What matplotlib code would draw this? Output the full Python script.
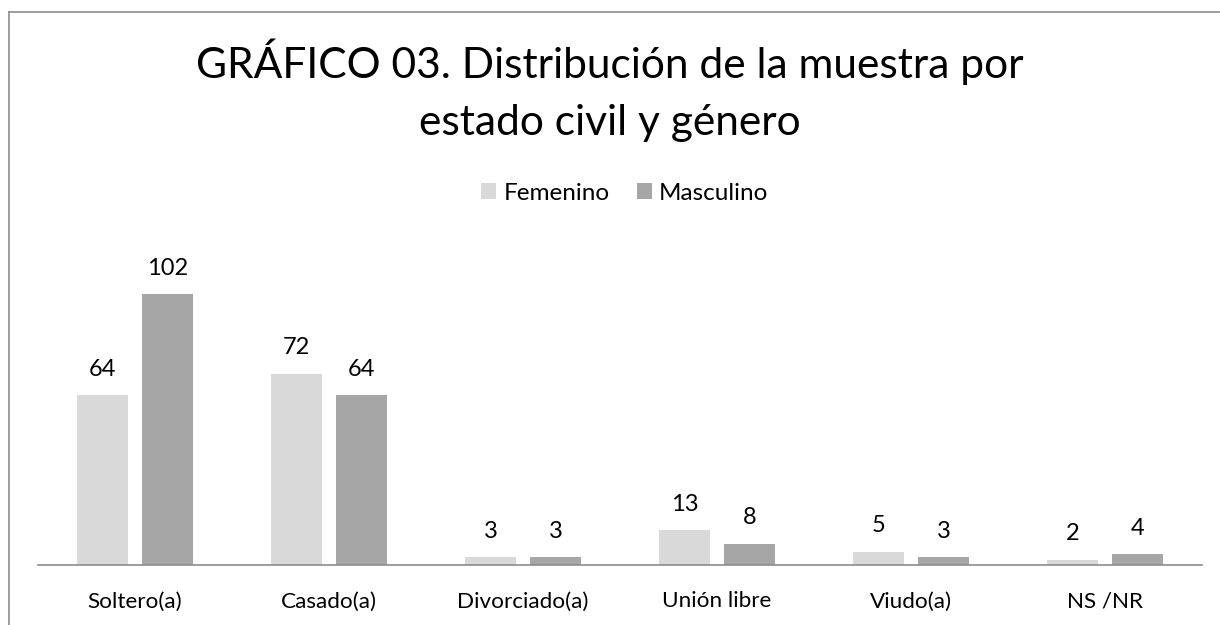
import matplotlib.pyplot as plt
import numpy as np
from matplotlib.lines import Line2D

plt.rcParams['font.family'] = ['Lato', 'DejaVu Sans']

# data
categories = ["Soltero(a)", "Casado(a)", "Divorciado(a)", "Unión libre", "Viudo(a)", "NS /NR"]
femenino = [64, 72, 3, 13, 5, 2]
masculino = [102, 64, 3, 8, 3, 4]
title_lines = ["GRÁFICO 03. Distribución de la muestra por", "estado civil y género"]

fem_color = '#D9D9D9'
masc_color = '#A6A6A6'

fig = plt.figure(figsize=(12.2, 6.25), dpi=100)
fig.patch.set_facecolor('white')

# plot area: baseline at y=565 px, x from 38 to 1202 px
W, H = 1220, 625
left = 38 / W
width = 1164 / W
bottom = 1 - 565 / H
ymax = 120
height = ymax * 2.657 / H
ax = fig.add_axes([left, bottom, width, height])

x = np.arange(len(categories))
bw = 0.265
off = 0.1675
b1 = ax.bar(x - off, femenino, bw, color=fem_color, label='Femenino')
b2 = ax.bar(x + off, masculino, bw, color=masc_color, label='Masculino')

for bars in (b1, b2):
    for rect in bars:
        ax.annotate(f"{int(rect.get_height())}",
                    (rect.get_x() + rect.get_width() / 2, rect.get_height()),
                    xytext=(0, 11), textcoords='offset points',
                    ha='center', va='bottom', fontsize=17, color='#000000')

ax.set_xlim(-0.5, len(categories) - 0.5)
ax.set_ylim(0, ymax)
ax.set_yticks([])
ax.set_xticks(x)
ax.set_xticklabels(categories, fontsize=16.2)
ax.tick_params(axis='x', length=0, pad=19)
for s in ['top', 'right', 'left']:
    ax.spines[s].set_visible(False)
ax.spines['bottom'].set_color('#8C8C8C')
ax.spines['bottom'].set_linewidth(1.2)

# title, two lines with baselines at 78 and 135 px
fig.text(0.5, 1 - 78 / H, title_lines[0], ha='center', va='baseline', fontsize=30.6)
fig.text(0.5, 1 - 135 / H, title_lines[1], ha='center', va='baseline', fontsize=30.6)

fig.legend(handles=[b1, b2], labels=['Femenino', 'Masculino'], loc='center',
           bbox_to_anchor=(625 / W, 1 - 193 / H), ncol=2, frameon=False, fontsize=17.5,
           handlelength=0.6, handleheight=0.6, handletextpad=0.3, columnspacing=1.15)

# chart border (only top and left visible in the crop)
fig.add_artist(Line2D([9 / W, 1], [1 - 11.5 / H, 1 - 11.5 / H], color='#8C8C8C', lw=1.2,
                      transform=fig.transFigure))
fig.add_artist(Line2D([9 / W, 9 / W], [0, 1 - 11.5 / H], color='#8C8C8C', lw=1.2,
                      transform=fig.transFigure))

fig.savefig('out.png', dpi=100, facecolor='white')
